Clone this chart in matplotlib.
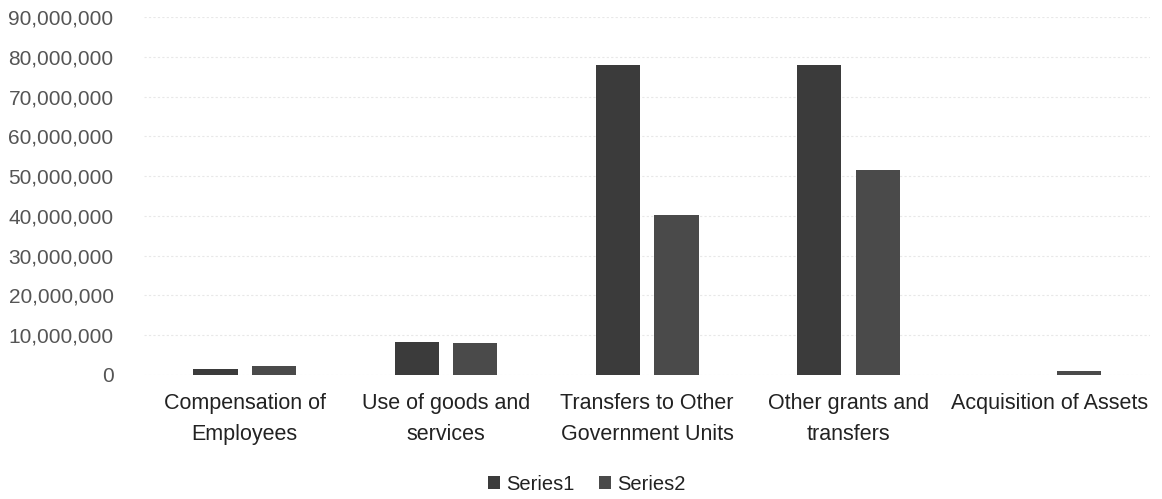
import matplotlib
matplotlib.use("Agg")
import matplotlib.pyplot as plt
import numpy as np
from matplotlib.ticker import FuncFormatter

plt.rcParams['font.family'] = ['Liberation Sans Narrow', 'Liberation Sans', 'DejaVu Sans']

categories = ["Compensation of\nEmployees", "Use of goods and\nservices",
              "Transfers to Other\nGovernment Units", "Other grants and\ntransfers",
              "Acquisition of Assets"]
series1 = [1500000, 8300000, 77900000, 77900000, 0]
series2 = [2300000, 8000000, 40200000, 51500000, 1100000]

fig, ax = plt.subplots(figsize=(11.62, 4.99), dpi=100)
plt.subplots_adjust(left=0.124, right=0.99, bottom=0.2485, top=0.966)

x = np.arange(len(categories))
w = 0.22
ax.bar(x - 0.145, series1, w, color='#3b3b3b', label='Series1', zorder=3)
ax.bar(x + 0.145, series2, w, color='#4a4a4a', label='Series2', zorder=3)

ax.set_xlim(-0.5, len(categories) - 0.5)
ax.set_ylim(0, 90000000)
ax.set_yticks(np.arange(0, 90000001, 10000000))
ax.yaxis.set_major_formatter(FuncFormatter(lambda v, p: f"{int(v):,}"))
ax.set_xticks(x)
ax.set_xticklabels(categories, fontsize=15.5, color='#222222', linespacing=1.6)

ax.grid(axis='y', color='#e8e8e8', linestyle=(0, (2, 2)), linewidth=0.8, zorder=0)
for s in ax.spines.values():
    s.set_visible(False)
ax.tick_params(axis='both', length=0)
ax.tick_params(axis='y', labelsize=15, labelcolor='#555555', pad=22)
ax.tick_params(axis='x', pad=13)

fig.legend(loc='center', bbox_to_anchor=(0.505, 0.03), ncol=2, frameon=False,
           fontsize=14.5, handlelength=0.6, handleheight=0.6, handletextpad=0.3,
           columnspacing=1.2, labelcolor='#222222')

fig.savefig("out.png", dpi=100)
